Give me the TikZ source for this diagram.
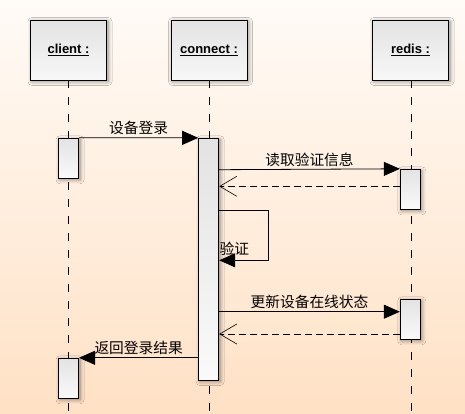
\documentclass[tikz,border=0pt]{standalone}
\usepackage{fontspec}
\setmainfont{Liberation Sans}
\newfontfamily\cjk{Noto Sans CJK SC}
\usetikzlibrary{arrows.meta,shadows.blur}
\begin{document}
\begin{tikzpicture}[x=1pt,y=-1pt]
\definecolor{bgtop}{RGB}{255,251,247}
\definecolor{bgbot}{RGB}{255,225,197}
\tikzstyle{shade}=[blur shadow={shadow blur steps=6,shadow xshift=1.5pt,shadow yshift=-1.5pt,shadow blur radius=4pt,shadow opacity=45}]
\tikzstyle{head}=[draw,line width=1pt,top color=black!11,bottom color=black!3,shade,minimum width=76pt,minimum height=60pt,inner sep=0pt,font=\fontsize{13}{15}\selectfont\bfseries]
\tikzstyle{act}=[draw,line width=1pt,top color=black!11,bottom color=black!2,shade,minimum width=20pt,inner sep=0pt]
\tikzstyle{lifeline}=[line width=0.8pt,dash pattern=on 8pt off 9pt]
\tikzstyle{call}=[line width=0.8pt,-{Triangle[length=16pt,width=14pt]}]
\tikzstyle{ret}=[line width=0.8pt,dash pattern=on 7pt off 4pt,-{Straight Barb[length=17pt,width=20pt,line width=0.6pt]}]
\tikzstyle{msg}=[font=\cjk\fontsize{14.7}{16}\selectfont,inner sep=2.5pt]
\fill[top color=bgtop,bottom color=bgbot] (0,0) rectangle (465,413);
\useasboundingbox (0,0) rectangle (465,413);
\coordinate (clientend) at (68.5,413);
\coordinate (connectend) at (209,413);
\coordinate (redisend) at (411,413);
\draw[lifeline] (68.5,80) -- (clientend);
\draw[lifeline] (209,80) -- (connectend);
\draw[lifeline] (411,80) -- (redisend);
\node[head] (client) at (68.5,50) {\underline{client :}};
\node[head] (connect) at (209,50) {\underline{connect :}};
\node[head] (redis) at (410.5,50) {\underline{redis :}};
\node[act,minimum height=40pt] (a1) at (68.5,158.3) {};
\node[act,minimum height=241.7pt] (c1) at (208.7,259.2) {};
\node[act,minimum height=40pt] (r1) at (410.3,189.3) {};
\node[act,minimum height=40pt] (r2) at (410.3,319.3) {};
\node[act,minimum height=40pt] (a2) at (68.5,378.3) {};
\coordinate (m2) at (0,169.7);
\coordinate (m3) at (0,186.3);
\coordinate (m4) at (0,210);
\coordinate (m5) at (268.3,260.3);
\coordinate (m6) at (0,311.7);
\coordinate (m7) at (0,334);
\draw[call] (a1.north east) -- node[msg,above] {设备登录} (c1.north west);
\draw[call] (c1.east |- m2) -- node[msg,above] {读取验证信息} (r1.north west);
\draw[ret] (r1.west |- m3) -- (c1.east |- m3);
\draw[call] (c1.east |- m4) -| (m5) -- (c1.east |- m5);
\node[msg,anchor=west,inner sep=0pt] (selflabel) at (219.5,249) {验证};
\draw[call] (c1.east |- m6) -- node[msg,above] {更新设备在线状态} (r2.west |- m6);
\draw[ret] (r2.west |- m7) -- (c1.east |- m7);
\draw[call] (c1.west |- a2.north) -- node[msg,above] {返回登录结果} (a2.north east);
\end{tikzpicture}
\end{document}
